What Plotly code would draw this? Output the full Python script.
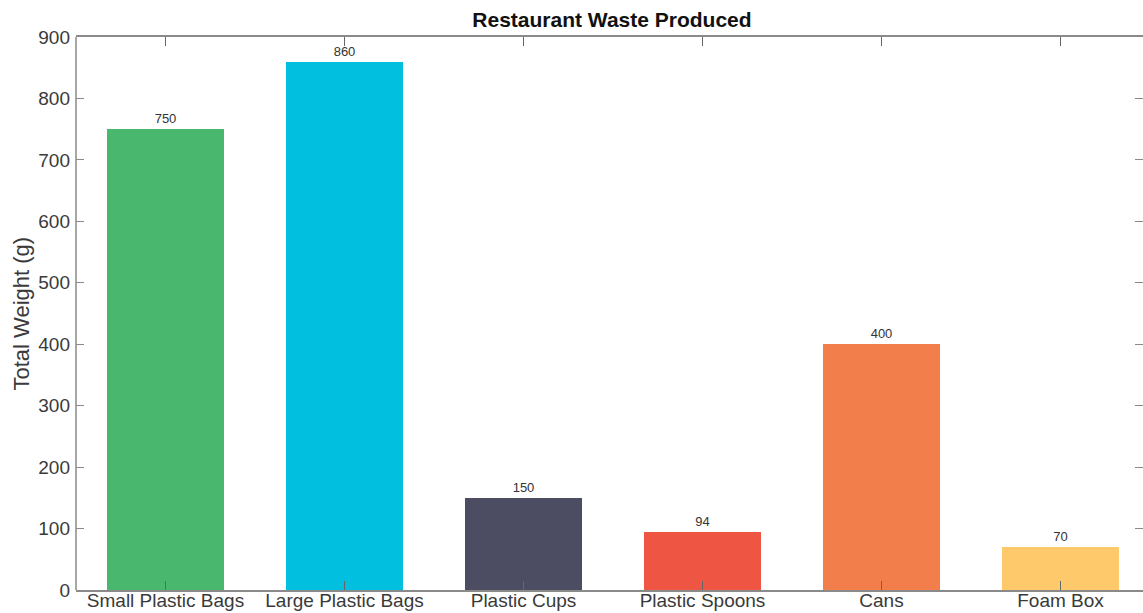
import plotly.graph_objects as go

categories = ["Small Plastic Bags", "Large Plastic Bags", "Plastic Cups",
              "Plastic Spoons", "Cans", "Foam Box"]
weights = [750, 860, 150, 94, 400, 70]
bar_colors = ["#49b86e", "#00bfdf", "#4c4c63", "#ef5543", "#f27e4b", "#fec96a"]
y_ticks = [0, 100, 200, 300, 400, 500, 600, 700, 800, 900]

positions = list(range(1, len(categories) + 1))

W, H = 1143, 613
ML, MR, MT, MB = 76, 0, 37, 23
plot_w = W - ML - MR
px_per_unit = 179.0
x_right = 0.5 + plot_w / px_per_unit

axis_gray = "#8a8a8a"
label_col = "#3a3a3a"
font_fam = "Liberation Sans, Arial, Helvetica, sans-serif"

fig = go.Figure()
fig.add_trace(go.Bar(
    x=positions, y=weights, width=0.65,
    marker=dict(color=bar_colors, line=dict(width=0)),
    text=[str(v) for v in weights], textposition="outside",
    textfont=dict(size=13, color="#333333", family=font_fam),
    cliponaxis=False, hoverinfo="skip",
))

fig.update_layout(
    width=W, height=H,
    margin=dict(l=ML, r=MR, t=MT, b=MB, autoexpand=False),
    paper_bgcolor="white", plot_bgcolor="white",
    showlegend=False,
    font=dict(family=font_fam, color=label_col),
    title=dict(text="<b>Restaurant Waste Produced</b>",
               x=612 / W, xanchor="center",
               y=1 - 20 / H, yanchor="middle", yref="container",
               font=dict(size=21, color="#111111", family=font_fam)),
    bargap=0,
)

fig.update_xaxes(
    range=[0.5, x_right], tickmode="array", tickvals=positions, ticktext=categories,
    tickfont=dict(size=19, color=label_col), ticks="inside", ticklen=9,
    tickcolor="#666666", tickwidth=1, automargin=False, ticklabelstandoff=-8,
    showline=True, linecolor=axis_gray, linewidth=1.5, mirror="ticks",
    showgrid=False, zeroline=False,
)
fig.update_yaxes(
    range=[0, 900], tickmode="array", tickvals=y_ticks,
    tickfont=dict(size=19, color=label_col), ticks="inside", ticklen=8,
    tickcolor=axis_gray, tickwidth=1, ticklabelstandoff=5, automargin=False,
    showline=False, mirror="ticks",
    showgrid=False, zeroline=False,
)

# left border of the axes box
fig.add_shape(type="line", xref="paper", yref="paper", x0=0, x1=0, y0=0, y1=1,
              line=dict(color=axis_gray, width=1.5))

fig.add_annotation(
    text="Total Weight (g)", textangle=-90,
    xref="paper", yref="paper",
    x=-(ML - 21) / plot_w, y=0.5, xanchor="center", yanchor="middle",
    showarrow=False, font=dict(size=22, color=label_col, family=font_fam),
)

fig.write_html("out.html")
